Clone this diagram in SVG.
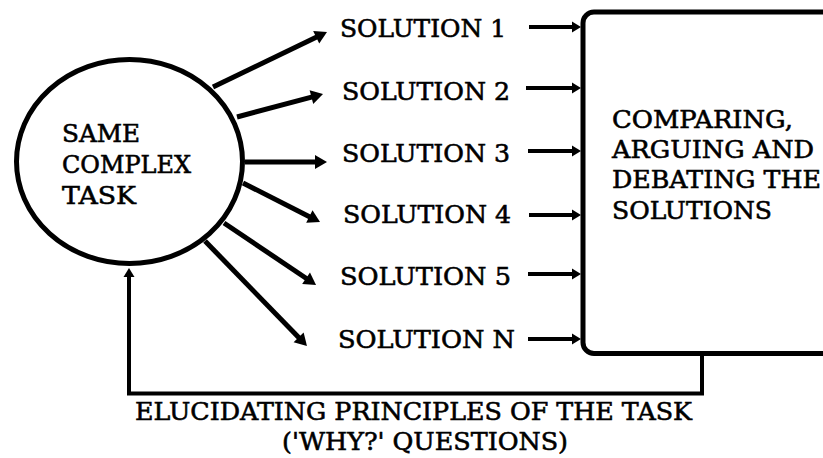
<svg xmlns="http://www.w3.org/2000/svg" width="823" height="458" viewBox="0 0 823 458">
<style>
text{font-family:"DejaVu Serif","Liberation Serif",serif;font-size:25px;fill:#000;stroke:#000;stroke-width:0.6px}
.shape{fill:#fff;stroke:#000}
.conn{fill:none;stroke:#000;stroke-linejoin:miter}
</style>
<defs>
<marker id="big" markerUnits="userSpaceOnUse" markerWidth="14" markerHeight="16" refX="4" refY="7" orient="auto" overflow="visible"><path d="M0,0 L12,7 L0,14 z" fill="#000"/></marker>
<marker id="small" markerUnits="userSpaceOnUse" markerWidth="10" markerHeight="12" refX="3" refY="5.5" orient="auto" overflow="visible"><path d="M0,0 L9,5.5 L0,11 z" fill="#000"/></marker>
</defs>
<rect width="823" height="458" fill="#fff"/>
<g id="task">
<ellipse class="shape" cx="129.5" cy="161.5" rx="113" ry="102" stroke-width="5"/>
<text x="62" y="142" textLength="78" lengthAdjust="spacingAndGlyphs">SAME</text>
<text x="62" y="173" textLength="129" lengthAdjust="spacingAndGlyphs">COMPLEX</text>
<text x="62" y="204" textLength="74" lengthAdjust="spacingAndGlyphs">TASK</text>
</g>
<g id="compare">
<rect class="shape" x="583" y="12" width="300" height="341.5" rx="11" stroke-width="5"/>
<text x="612" y="128" textLength="181" lengthAdjust="spacingAndGlyphs">COMPARING,</text>
<text x="612" y="158" textLength="202" lengthAdjust="spacingAndGlyphs">ARGUING AND</text>
<text x="612" y="188" textLength="209" lengthAdjust="spacingAndGlyphs">DEBATING THE</text>
<text x="612" y="219" textLength="160" lengthAdjust="spacingAndGlyphs">SOLUTIONS</text>
</g>
<g id="solution1"><text x="340" y="37" textLength="166" lengthAdjust="spacingAndGlyphs">SOLUTION 1</text></g>
<g id="solution2"><text x="342" y="100" textLength="168" lengthAdjust="spacingAndGlyphs">SOLUTION 2</text></g>
<g id="solution3"><text x="342" y="162" textLength="168" lengthAdjust="spacingAndGlyphs">SOLUTION 3</text></g>
<g id="solution4"><text x="343" y="223" textLength="168" lengthAdjust="spacingAndGlyphs">SOLUTION 4</text></g>
<g id="solution5"><text x="340" y="285" textLength="171" lengthAdjust="spacingAndGlyphs">SOLUTION 5</text></g>
<g id="solutionN"><text x="338" y="348" textLength="177" lengthAdjust="spacingAndGlyphs">SOLUTION N</text></g>
<g id="connectors">
<g class="conn" stroke-width="5" marker-end="url(#big)">
<line x1="213" y1="87" x2="319.8" y2="35.5"/>
<line x1="237" y1="117" x2="315.3" y2="96.1"/>
<line x1="245" y1="162" x2="319" y2="162"/>
<line x1="243" y1="183" x2="312.9" y2="218.4"/>
<line x1="224" y1="223" x2="309.4" y2="280.5"/>
<line x1="205" y1="241" x2="301.4" y2="340.3"/>
</g>
<g class="conn" stroke-width="4" marker-end="url(#small)">
<line x1="529" y1="27" x2="575" y2="27"/>
<line x1="526" y1="88" x2="575" y2="88"/>
<line x1="528" y1="151" x2="575" y2="151"/>
<line x1="529" y1="215" x2="575" y2="215"/>
<line x1="528" y1="274" x2="575" y2="274"/>
<line x1="528" y1="339" x2="575" y2="339"/>
<path d="M702,355 V393.5 H129 V274"/>
</g>
</g>
<g id="feedback-label">
<text x="135" y="420" textLength="557" lengthAdjust="spacingAndGlyphs">ELUCIDATING PRINCIPLES OF THE TASK</text>
<text x="282" y="450" textLength="286" lengthAdjust="spacingAndGlyphs">('WHY?' QUESTIONS)</text>
</g>
</svg>
